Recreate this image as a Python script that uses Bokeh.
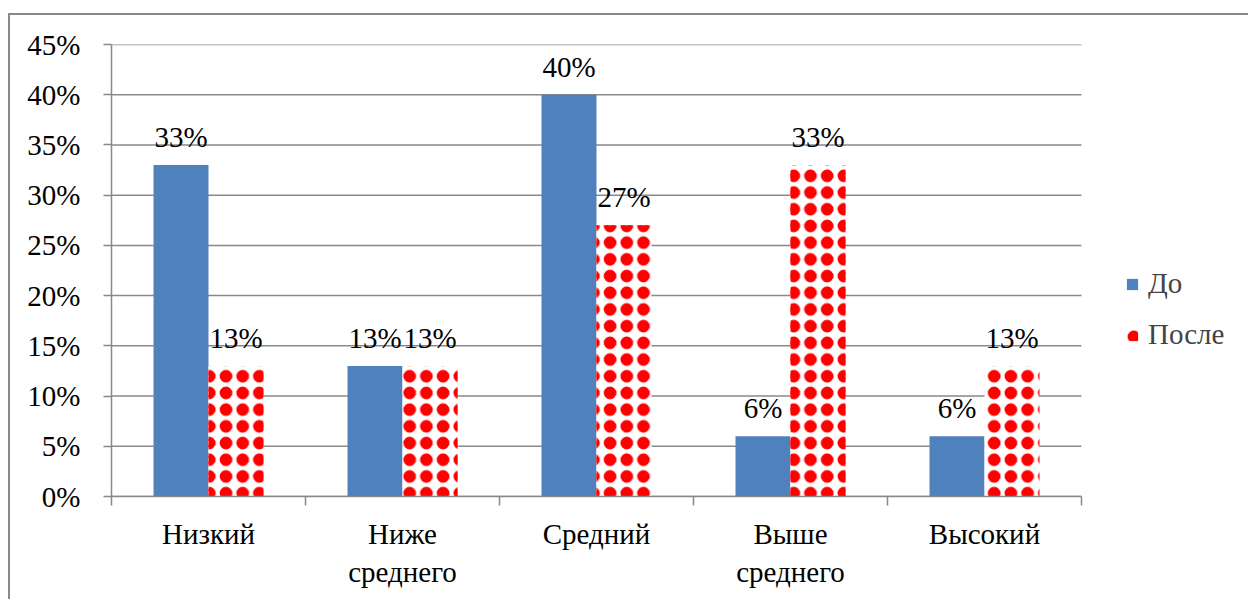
from bokeh.plotting import figure
from bokeh.models import (ColumnDataSource, Range1d, FixedTicker, NumeralTickFormatter,
                          LabelSet, Legend, LegendItem, InlineStyleSheet)
from bokeh.embed import file_html
from bokeh.resources import INLINE

categories = ["Низкий", "Ниже\nсреднего", "Средний", "Выше\nсреднего", "Высокий"]
before = [33, 13, 40, 6, 6]
after = [13, 13, 27, 33, 13]
y_ticks = [0, 5, 10, 15, 20, 25, 30, 35, 40, 45]

FONT = "Liberation Serif"
GRAY = "#898989"
BLUE = "#4F81BD"
RED = "#FF0000"

n = len(categories)
centers = [i + 0.5 for i in range(n)]
bw = 0.2835
x_end = n * (1248 - 111) / 970

src_b = ColumnDataSource(dict(x=[c - bw / 2 for c in centers], y=[v / 100 for v in before],
                              lab=[f"{v}%" for v in before]))
src_a = ColumnDataSource(dict(x=[c + bw / 2 for c in centers], y=[v / 100 for v in after],
                              lab=[f"{v}%" for v in after]))
src_g = ColumnDataSource(dict(x0=[0] * len(y_ticks), x1=[n] * len(y_ticks),
                              y=[t / 100 for t in y_ticks]))

p = figure(width=1248, height=599, output_backend="svg", toolbar_location=None,
           x_range=Range1d(0, x_end), y_range=Range1d(0, 0.45),
           min_border_left=111, min_border_right=0, min_border_top=44, min_border_bottom=103)
p.outline_line_color = None
p.background_fill_color = "white"
p.border_fill_color = "white"

p.segment(x0="x0", x1="x1", y0="y", y1="y", source=src_g, line_color=GRAY, line_width=1.5)

rb = p.vbar(x="x", top="y", width=bw, source=src_b, fill_color=BLUE, line_color=None)
# red dot pattern on white: a heavy ring hatch plus a dot hatch to fill the ring centre
ra = p.vbar(x="x", top="y", width=bw, source=src_a, fill_color="white", line_color=None,
            hatch_pattern="ring", hatch_color=RED, hatch_scale=16.7, hatch_weight=4.3)
ra2 = p.vbar(x="x", top="y", width=bw, source=src_a, fill_alpha=0, line_color=None,
             hatch_pattern="dot", hatch_color=RED, hatch_scale=16.7)

for s in (src_b, src_a):
    p.add_layout(LabelSet(x="x", y="y", text="lab", source=s, text_align="center",
                          text_baseline="alphabetic", y_offset=18, text_font=FONT,
                          text_font_size="29px", text_color="black"))

p.yaxis.ticker = FixedTicker(ticks=[t / 100 for t in y_ticks])
p.yaxis.formatter = NumeralTickFormatter(format="0%")
p.yaxis.major_label_text_font = FONT
p.yaxis.major_label_text_font_size = "29px"
p.yaxis.major_label_text_color = "black"
p.yaxis.major_label_standoff = 23
p.yaxis.major_tick_in = 0
p.yaxis.major_tick_out = 8
p.yaxis.minor_tick_line_color = None
p.yaxis.axis_line_color = GRAY
p.yaxis.axis_line_width = 1.5
p.yaxis.major_tick_line_color = GRAY
p.yaxis.major_tick_line_width = 1.5

p.xaxis.ticker = FixedTicker(ticks=centers, minor_ticks=list(range(n + 1)))
p.xaxis.major_label_overrides = {c: categories[i] for i, c in enumerate(centers)}
p.xaxis.bounds = (0, n)
p.xaxis.major_label_text_font = FONT
p.xaxis.major_label_text_font_size = "29px"
p.xaxis.major_label_text_color = "black"
p.xaxis.major_label_standoff = 12
p.xaxis.major_tick_line_color = None
p.xaxis.major_tick_in = 0
p.xaxis.major_tick_out = 9
p.xaxis.minor_tick_in = 0
p.xaxis.minor_tick_out = 9
p.xaxis.minor_tick_line_color = GRAY
p.xaxis.minor_tick_line_width = 1.5
p.xaxis.axis_line_color = GRAY
p.xaxis.axis_line_width = 1.5

p.xgrid.grid_line_color = None
p.ygrid.grid_line_color = None

legend = Legend(items=[LegendItem(label="До", renderers=[rb]),
                       LegendItem(label="После", renderers=[ra, ra2])],
                location=(1014, 145), padding=0, margin=0, spacing=18,
                glyph_width=14, glyph_height=14, label_standoff=9,
                label_text_font=FONT, label_text_font_size="29px",
                border_line_color=None, background_fill_alpha=0)
p.add_layout(legend, "center")

p.stylesheets = [InlineStyleSheet(css="""
:host::after {
  content: "";
  position: absolute;
  left: 8px; top: 13px; right: 0; bottom: 0;
  border-left: 2px solid #898989;
  border-top: 2px solid #898989;
  pointer-events: none;
}
""")]

open("out.html", "w").write(file_html(p, INLINE))
